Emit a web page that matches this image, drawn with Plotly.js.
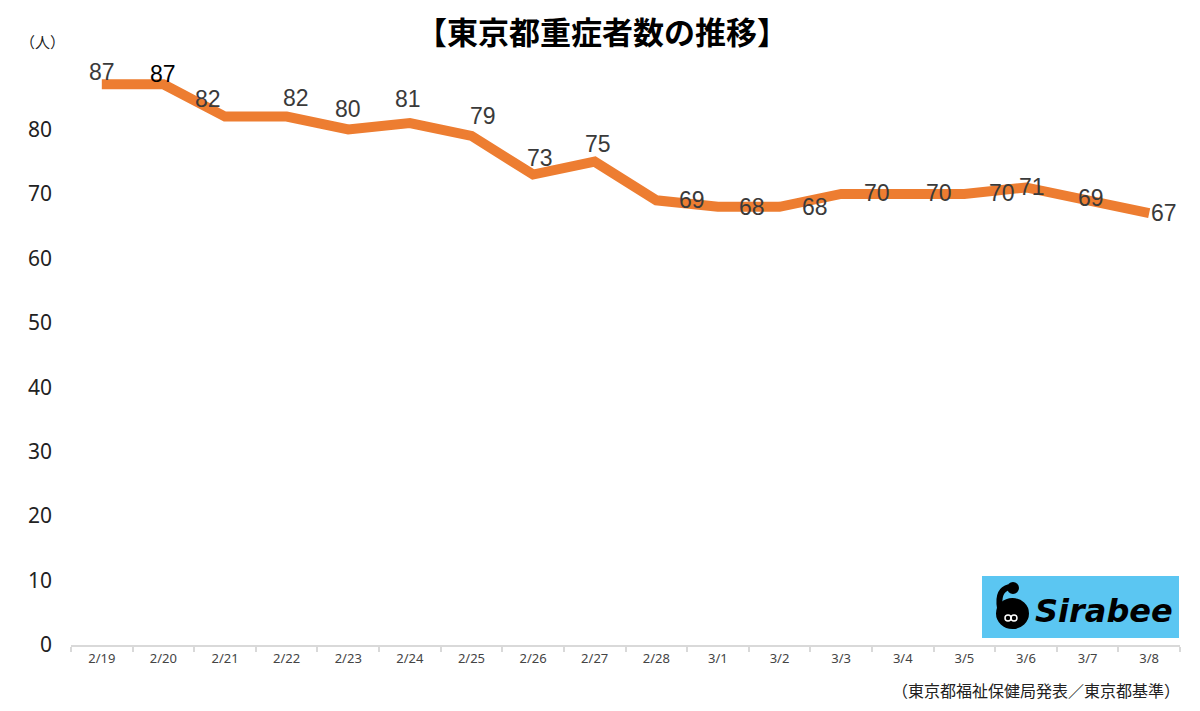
<!DOCTYPE html>
<html>
<head>
<meta charset="utf-8">
<script src="https://cdn.plot.ly/plotly-3.0.1.min.js"></script>
<style>
html,body{margin:0;padding:0;background:#fff;}
#chart{width:1200px;height:711px;}
</style>
</head>
<body>
<div id="chart"></div>
<script>
// ---- data ----
const dates = ["2/19","2/20","2/21","2/22","2/23","2/24","2/25","2/26","2/27","2/28","3/1","3/2","3/3","3/4","3/5","3/6","3/7","3/8"];
const severeCases = [87,87,82,82,80,81,79,73,75,69,68,68,70,70,70,71,69,67];
const yTicks = [0,10,20,30,40,50,60,70,80];
const titleText = "【東京都重症者数の推移】";
const unitText = "（人）";
const sourceText = "（東京都福祉保健局発表／東京都基準）";
const logoText = "Sirabee";

// ---- label placement (style, pixels) ----
const labelDx = [0,0,-17,9,0,-2,12,7,3,36,34,35,36,36,38,6,3,15];
const labelDy = [-12,-10,-18,-19,-20,-24,-20,-17,-18,0,0,0,-1,-1,-1,0,-2,0];
const labelColors = severeCases.map((v,i)=> i===1 ? "#000000" : "#3a3a3a");

// plot geometry
const W = 1200, H = 711;
const M = {l:71, r:20, t:64.5, b:66};
const pw = W - M.l - M.r, ph = H - M.t - M.b;
const px = x => (x - M.l) / pw;
const py = y => (H - M.b - y) / ph;

const trace = {
  x: dates, y: severeCases, type: "scatter", mode: "lines",
  line: {color: "#ED7D31", width: 10, shape: "linear"},
  hoverinfo: "skip"
};

const annotations = severeCases.map((v,i)=>({
  x: dates[i], y: v, xref: "x", yref: "y", text: String(v), showarrow: false,
  xshift: labelDx[i], yshift: -labelDy[i],
  font: {family: "Liberation Sans, Arial, sans-serif", size: 23, color: labelColors[i]}
}));

annotations.push({
  xref: "paper", yref: "paper", x: px(602), y: py(30), xanchor: "center", yanchor: "middle",
  text: "<b>" + titleText + "</b>", showarrow: false,
  font: {family: "Noto Sans CJK JP, sans-serif", size: 31, color: "#000"}
});
annotations.push({
  xref: "paper", yref: "paper", x: px(18), y: py(41), xanchor: "left", yanchor: "middle",
  text: unitText, showarrow: false,
  font: {family: "Noto Sans CJK JP, sans-serif", size: 15, color: "#222"}
});
annotations.push({
  xref: "paper", yref: "paper", x: px(1182), y: py(690), xanchor: "right", yanchor: "middle",
  text: sourceText, showarrow: false,
  font: {family: "Noto Sans CJK JP, sans-serif", size: 16, color: "#222"}
});
annotations.push({
  xref: "paper", yref: "paper", x: px(1104), y: py(611), xanchor: "center", yanchor: "middle",
  text: "<b><i>" + logoText + "</i></b>", showarrow: false,
  font: {family: "DejaVu Sans, sans-serif", size: 32, color: "#000"}
});

const shapes = [
  {type: "rect", xref: "paper", yref: "paper", x0: px(982), x1: px(1179), y0: py(638), y1: py(576),
   fillcolor: "#5BC6F2", line: {width: 0}, layer: "above"},
  {type: "circle", xref: "paper", yref: "paper", x0: px(996), x1: px(1029), y0: py(629), y1: py(598),
   fillcolor: "#000", line: {width: 0}, layer: "above"},
  {type: "path", xref: "paper", yref: "paper",
   path: `M ${px(1000)},${py(608)} Q ${px(997)},${py(590)} ${px(1009)},${py(587)}`,
   line: {color: "#000", width: 6}, layer: "above"},
  {type: "circle", xref: "paper", yref: "paper", x0: px(1007), x1: px(1019), y0: py(594), y1: py(582),
   fillcolor: "#000", line: {width: 0}, layer: "above"},
  {type: "circle", xref: "paper", yref: "paper", x0: px(1005), x1: px(1011), y0: py(621), y1: py(615),
   fillcolor: "rgba(0,0,0,0)", line: {color: "#fff", width: 1.5}, layer: "above"},
  {type: "circle", xref: "paper", yref: "paper", x0: px(1011), x1: px(1017), y0: py(621), y1: py(615),
   fillcolor: "rgba(0,0,0,0)", line: {color: "#fff", width: 1.5}, layer: "above"}
];

const layout = {
  width: W, height: H,
  margin: M,
  paper_bgcolor: "#fff", plot_bgcolor: "#fff",
  showlegend: false,
  xaxis: {
    type: "category", showgrid: false, zeroline: false,
    showline: true, linecolor: "#d9d9d9", linewidth: 2,
    ticks: "outside", tickson: "boundaries", ticklen: 5, tickcolor: "#d9d9d9", tickwidth: 2,
    tickfont: {family: "Noto Sans, sans-serif", size: 13, color: "#444"},
    range: [-0.5, dates.length - 0.5], fixedrange: true
  },
  yaxis: {
    range: [0, 90], tickvals: yTicks, showgrid: false, zeroline: false, showline: false,
    ticks: "", ticklabelstandoff: 18,
    tickfont: {family: "Noto Sans, sans-serif", size: 21, color: "#222"},
    fixedrange: true
  },
  annotations: annotations,
  shapes: shapes
};

Plotly.newPlot("chart", [trace], layout, {displayModeBar: false, staticPlot: true});
</script>
</body>
</html>
